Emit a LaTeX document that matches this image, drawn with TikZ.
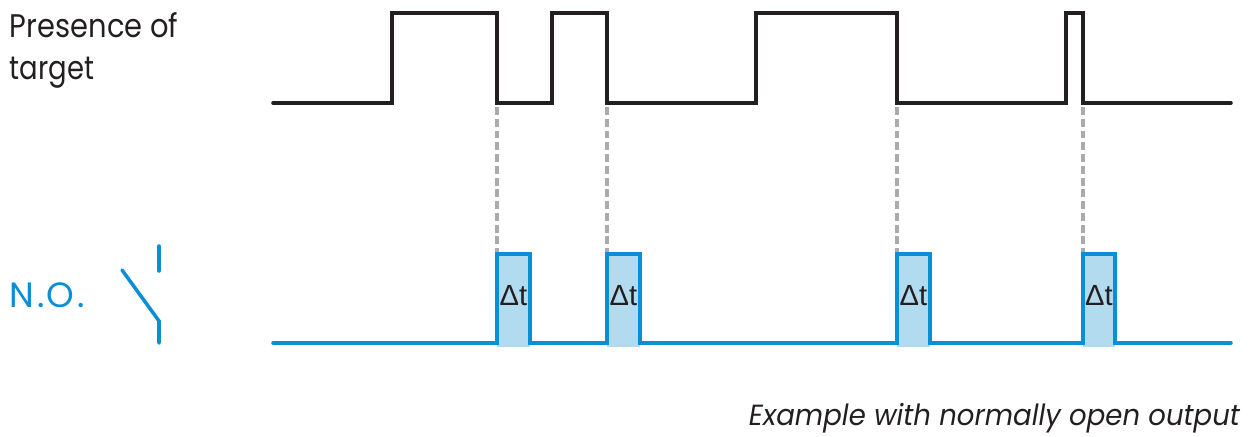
\documentclass[tikz,border=0pt]{standalone}
\usepackage{fontspec}
\setmainfont{Poppins}[FakeStretch=0.885]
\newfontfamily\capfont{Poppins}[FakeStretch=0.945]
\newfontfamily\nofont{Poppins}[LetterSpace=7]
\newfontfamily\dtfont{Liberation Sans}
\definecolor{ablue}{HTML}{0A8FD6}
\definecolor{afill}{HTML}{B3DBEF}
\definecolor{ablack}{HTML}{231F20}
\definecolor{agray}{HTML}{ABABAB}
\tikzset{
  sig/.style={line width=2pt, line join=miter, line cap=round},
  lbl/.style={inner sep=0pt, outer sep=0pt, text=ablack},
  dtlabel/.style={lbl, font=\dtfont\fontsize{16.6}{16.6}\selectfont},
}
\begin{document}
\begin{tikzpicture}[x=0.02cm,y=-0.02cm]
\useasboundingbox (0,0) rectangle (1253,436);
% filled pulses
\foreach \a/\b in {497/530,607/640,897/930,1083/1115}{
  \fill[afill] (\a,254) rectangle (\b,347);
  \draw[color=agray, line width=1.8pt, dash pattern=on 4.5pt off 2.2pt] (\a,107) -- (\a,252);
}
% target signal
\draw[sig,ablack] (273,103) -| (392,13) -| (497,103) -| (552,13) -| (607,103) -| (756,13) -| (897,103) -| (1066,13) -| (1083,103) -- (1231,103);
% output signal
\draw[sig,ablue] (273,343) -- (497,343) |- (530,254) |- (607,343) |- (640,254) |- (897,343) |- (930,254) |- (1083,343) |- (1115,254) |- (1231,343);
% switch symbol
\draw[sig,ablue] (159,246) -- (159,271);
\draw[sig,ablue] (122,270) -- (159,321) -- (159,343);
% labels
\node[lbl,anchor=base west,font=\fontsize{18.6}{18.6}\selectfont] (presence) at (10,37) {Presence of};
\node[lbl,anchor=base west,font=\fontsize{18.6}{18.6}\addfontfeature{FakeStretch=0.84}\selectfont] (target) at (10,79) {target};
\node[lbl,anchor=base west,text=ablue,font=\nofont\fontsize{20}{20}\selectfont] (no) at (10,307) {N.O.};
\node[lbl,anchor=base east,font=\capfont\fontsize{16.6}{16.6}\selectfont\itshape] (caption) at (1240,425) {Example with normally open output};
\node[dtlabel] (d1) at (513.5,296) {Δt};
\node[dtlabel] (d2) at (623.5,296) {Δt};
\node[dtlabel] (d3) at (913.5,296) {Δt};
\node[dtlabel] (d4) at (1099,296) {Δt};
\end{tikzpicture}
\end{document}
